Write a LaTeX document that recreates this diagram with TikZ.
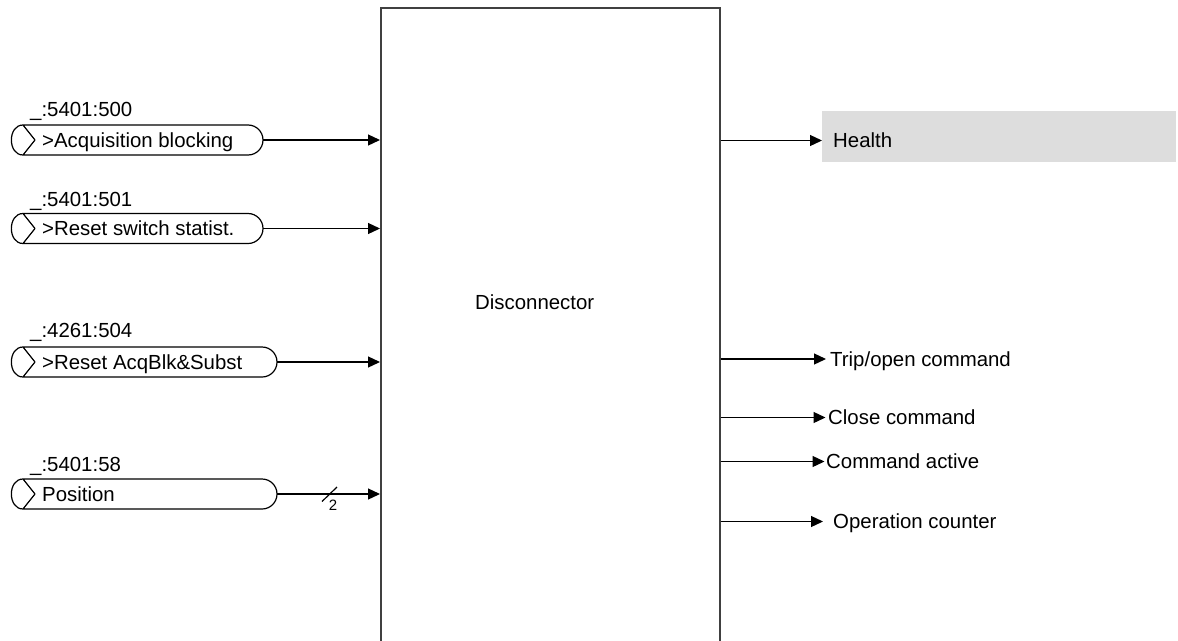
\documentclass[tikz,border=0pt]{standalone}
\usepackage{fontspec}
\setmainfont{Liberation Sans}
\usetikzlibrary{arrows.meta}
\definecolor{boxline}{HTML}{404040}
\definecolor{healthgray}{HTML}{DDDDDD}
\newcommand\mypill[3]{% name, centre y, right x
  \draw[pillline] (23,#2-15) -- (#3-15,#2-15)
    .. controls (#3-6.7,#2-15) and (#3,#2-8.3) .. (#3,#2)
    .. controls (#3,#2+8.3) and (#3-6.7,#2+15) .. (#3-15,#2+15)
    -- (23,#2+15)
    .. controls (7.5,#2+15) and (7.5,#2-15) .. (23,#2-15)
    -- (35,#2) -- (23,#2+15);
  \coordinate (#1) at (#3,#2);
}
\begin{document}
\begin{tikzpicture}[x=1pt,y=-1pt,
  txt/.style={font=\fontsize{20.4}{24}\selectfont, inner sep=0pt, text height=14.6pt, text depth=0pt},
  pillline/.style={line width=1.2pt, line join=round, black},
  arr/.style={line width=1.25pt, -{Triangle[length=12pt,width=11pt]}},
  boxstyle/.style={draw=boxline, line width=1.6pt, minimum width=339pt, minimum height=660pt, inner sep=0pt}
]
\useasboundingbox (0,0) rectangle (1178,640);
\fill[white] (0,0) rectangle (1178,640);

% main block
\node[boxstyle, anchor=north west] (box) at (380,7) {};
\node[txt, anchor=west] (title) at (475,302) {Disconnector};

% inputs
\mypill{p1}{140}{263}
\node[txt, anchor=west] (t1) at (42,140) {>Acquisition blocking};
\node[txt, anchor=west] (l1) at (30,109.5) {\_:5401:500};

\mypill{p2}{228.5}{263}
\node[txt, anchor=west] (t2) at (42,228.5) {>Reset switch statist.};
\node[txt, anchor=west] (l2) at (30,199) {\_:5401:501};

\mypill{p3}{362}{277}
\node[txt, anchor=west] (t3) at (42,362) {>Reset AcqBlk\&Subst};
\node[txt, anchor=west] (l3) at (30,330.5) {\_:4261:504};

\mypill{p4}{494}{277}
\node[txt, anchor=west] (t4) at (42,494) {Position};
\node[txt, anchor=west] (l4) at (30,464.5) {\_:5401:58};

\draw[arr] (p1) -- (p1 -| box.west);
\draw[arr] (p2) -- (p2 -| box.west);
\draw[arr] (p3) -- (p3 -| box.west);
\draw[arr] (p4) -- (p4 -| box.west);
\coordinate (s1) at (322,501.5);
\coordinate (s2) at (337,487);
\draw[line width=1.2pt] (s1) -- (s2);
\node[font=\fontsize{15}{17}\selectfont, inner sep=0pt] (two) at (333,505) {2};

% outputs
\node[fill=healthgray, minimum width=354pt, minimum height=51pt, inner sep=0pt, anchor=north west] (healthbg) at (822,111) {};
\node[txt, anchor=west] (health) at (833,140.5) {Health};
\draw[arr] (health -| box.east) -- (health -| healthbg.west);

\node[txt, anchor=west] (trip) at (830,359) {Trip/open command};
\draw[arr] (trip -| box.east) -- ([xshift=-4pt]trip.west);

\node[txt, anchor=west] (close) at (828,417.5) {Close command};
\draw[arr] (close -| box.east) -- ([xshift=-2.5pt]close.west);

\node[txt, anchor=west] (active) at (826,461.5) {Command active};
\draw[arr] (active -| box.east) -- ([xshift=-1.5pt]active.west);

\node[txt, anchor=west] (opc) at (833,521.5) {Operation counter};
\draw[arr] (opc -| box.east) -- ([xshift=-10pt]opc.west);
\end{tikzpicture}
\end{document}
